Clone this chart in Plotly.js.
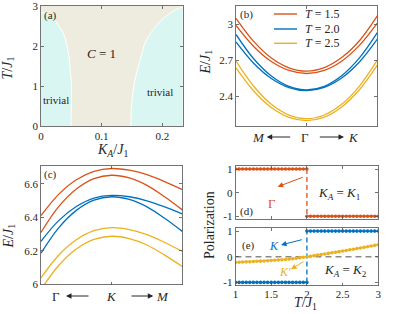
<!DOCTYPE html>
<html><head><meta charset="utf-8">
<script src="https://cdn.plot.ly/plotly-3.0.1.min.js"></script>
<style>html,body{margin:0;padding:0;background:#fff}#plot{width:399px;height:314px}</style>
</head><body><div id="plot"></div>
<script>
// ---------- DATA ----------
// (a) phase diagram boundaries (K_A/J1, T/J1)
const leftBoundaryK  = [0.0494, 0.0500, 0.0504, 0.0478, 0.0466, 0.0433, 0.0367, 0.0285, 0.0203, 0.0100, 0.0000];
const leftBoundaryT  = [0.00,   0.50,   1.00,   1.44,   1.69,   1.98,   2.32,   2.525,  2.69,   2.80,   2.84];
const rightBoundaryK = [0.148, 0.149, 0.153, 0.160, 0.1659, 0.1713, 0.1824, 0.196, 0.2125, 0.2318, 0.2335];
const rightBoundaryT = [0.00,  0.48,  1.00,  1.48,  1.775,  2.07,   2.36,   2.61,  2.82,   2.98,   3.00];
const rangeKA = [0, 0.2335];
const rangeTa = [0, 3];

// (b) bands along M <- Gamma -> K
const kB = [-1, -0.75, -0.5, -0.25, 0, 0.25, 0.5, 0.75, 1];
const bT15a = [3.050, 2.857, 2.718, 2.636, 2.608, 2.638, 2.724, 2.865, 3.070];
const bT15b = [2.990, 2.815, 2.689, 2.614, 2.589, 2.615, 2.694, 2.826, 3.010];
const bT20a = [2.915, 2.712, 2.568, 2.481, 2.452, 2.482, 2.572, 2.721, 2.930];
const bT20b = [2.853, 2.675, 2.547, 2.471, 2.445, 2.472, 2.553, 2.687, 2.876];
const bT25a = [2.692, 2.482, 2.331, 2.241, 2.211, 2.242, 2.333, 2.486, 2.700];
const bT25b = [2.635, 2.443, 2.305, 2.222, 2.195, 2.224, 2.311, 2.455, 2.658];
const legendLabels = ['<i>T</i> = 1.5', '<i>T</i> = 2.0', '<i>T</i> = 2.5'];

// (c) bands along Gamma <- K -> M
const kC = [0, 0.25, 0.5, 0.75, 1, 1.25, 1.5, 1.75, 2];
const cT15a = [6.410, 6.536, 6.623, 6.673, 6.690, 6.680, 6.653, 6.612, 6.564];
const cT15b = [6.310, 6.463, 6.568, 6.630, 6.650, 6.634, 6.590, 6.522, 6.444];
const cT20a = [6.257, 6.380, 6.464, 6.514, 6.530, 6.522, 6.498, 6.462, 6.420];
const cT20b = [6.186, 6.337, 6.441, 6.502, 6.522, 6.506, 6.462, 6.394, 6.316];
const cT25a = [6.040, 6.174, 6.266, 6.320, 6.338, 6.327, 6.297, 6.250, 6.197];
const cT25b = [5.970, 6.113, 6.211, 6.268, 6.287, 6.273, 6.235, 6.175, 6.107];

// (d),(e) polarization vs T/J1
const T_low  = [1.00,1.05,1.10,1.15,1.20,1.25,1.30,1.35,1.40,1.45,1.50,1.55,1.60,1.65,1.70,1.75,1.80,1.85,1.90,1.95,2.00];
const T_high = [2.00,2.05,2.10,2.15,2.20,2.25,2.30,2.35,2.40,2.45,2.50,2.55,2.60,2.65,2.70,2.75,2.80,2.85,2.90,2.95,3.00];
const polGammaLow  = [1,1,1,1,1,1,1,1,1,1,1,1,1,1,1,1,1,1,1,1,1];
const polGammaHigh = [-1,-1,-1,-1,-1,-1,-1,-1,-1,-1,-1,-1,-1,-1,-1,-1,-1,-1,-1,-1,-1];
const polKLow  = [-1,-1,-1,-1,-1,-1,-1,-1,-1,-1,-1,-1,-1,-1,-1,-1,-1,-1,-1,-1,-1];
const polKHigh = [1,1,1,1,1,1,1,1,1,1,1,1,1,1,1,1,1,1,1,1,1];
const polKpLow  = [-0.220,-0.213,-0.206,-0.199,-0.192,-0.185,-0.178,-0.171,-0.163,-0.155,-0.147,-0.138,-0.128,-0.117,-0.105,-0.092,-0.078,-0.060,-0.041,-0.021,0.000];
const polKpHigh = [0.000,0.021,0.042,0.064,0.086,0.108,0.130,0.153,0.176,0.199,0.222,0.246,0.270,0.294,0.318,0.342,0.367,0.392,0.418,0.444,0.470];

// ---------- STYLE ----------
const W = 399, H = 314;
const FONT = 'Liberation Serif, Times New Roman, serif';
const ORANGE = '#D95319', BLUE = '#0072BD', YELLOW = '#EDB120';
const CYAN = '#daf6f2', BEIGE = '#eeecdf';
const TXT = '#262626';
const xd = (a, b) => [a / W, b / W];
const yd = (top, bot) => [1 - bot / H, 1 - top / H];
const px = v => v / W, py = v => 1 - v / H;

const axBase = {
  showline: true, linecolor: '#505050', linewidth: 0.8, mirror: 'ticks',
  ticks: 'inside', ticklen: 3, tickcolor: '#505050', tickwidth: 0.8,
  zeroline: false, showgrid: false, fixedrange: true, ticklabeloverflow: 'allow',
  tickfont: {family: FONT, size: 11, color: TXT}
};
function ax(extra) { return Object.assign({}, axBase, extra); }

const traces = [];
// (a)
traces.push({x: [rangeKA[0], rangeKA[1], rangeKA[1], rangeKA[0]], y: [rangeTa[0], rangeTa[0], rangeTa[1], rangeTa[1]],
  fill: 'toself', fillcolor: BEIGE, line: {width: 0}, mode: 'lines', xaxis: 'x', yaxis: 'y', showlegend: false, hoverinfo: 'skip'});
traces.push({x: [rangeKA[0]].concat(leftBoundaryK), y: [rangeTa[0]].concat(leftBoundaryT),
  fill: 'toself', fillcolor: CYAN, line: {width: 0}, mode: 'lines', xaxis: 'x', yaxis: 'y', showlegend: false, hoverinfo: 'skip'});
traces.push({x: rightBoundaryK.concat([rangeKA[1]]), y: rightBoundaryT.concat([rangeTa[0]]),
  fill: 'toself', fillcolor: CYAN, line: {width: 0}, mode: 'lines', xaxis: 'x', yaxis: 'y', showlegend: false, hoverinfo: 'skip'});
traces.push({x: leftBoundaryK, y: leftBoundaryT, mode: 'lines', line: {color: '#ffffff', width: 1, shape: 'spline'},
  xaxis: 'x', yaxis: 'y', showlegend: false});
traces.push({x: rightBoundaryK, y: rightBoundaryT, mode: 'lines', line: {color: '#ffffff', width: 1, shape: 'spline'},
  xaxis: 'x', yaxis: 'y', showlegend: false});

// (b)
const bSeries = [[bT15a, ORANGE, legendLabels[0]], [bT15b, ORANGE, legendLabels[0]],
                 [bT20a, BLUE, legendLabels[1]], [bT20b, BLUE, legendLabels[1]],
                 [bT25a, YELLOW, legendLabels[2]], [bT25b, YELLOW, legendLabels[2]]];
bSeries.forEach(s => traces.push({x: kB, y: s[0], mode: 'lines', line: {color: s[1], width: 1.3, shape: 'spline'},
  xaxis: 'x2', yaxis: 'y2', name: s[2], showlegend: false}));

// (c)
const cSeries = [[cT15a, ORANGE], [cT15b, ORANGE], [cT20a, BLUE], [cT20b, BLUE], [cT25a, YELLOW], [cT25b, YELLOW]];
cSeries.forEach(s => traces.push({x: kC, y: s[0], mode: 'lines', line: {color: s[1], width: 1.3, shape: 'spline'},
  xaxis: 'x3', yaxis: 'y3', showlegend: false}));

// (d)
const mk = c => ({mode: 'lines+markers', line: {color: c, width: 1.4}, marker: {color: c, size: 3.6}});
traces.push(Object.assign({x: T_low, y: polGammaLow, xaxis: 'x4', yaxis: 'y4', showlegend: false}, mk(ORANGE)));
traces.push({x: [T_low[T_low.length - 1], T_high[0]], y: [polGammaLow[polGammaLow.length - 1], polGammaHigh[0]],
  mode: 'lines', line: {color: ORANGE, width: 1.3, dash: '5px,3px'}, xaxis: 'x4', yaxis: 'y4', showlegend: false});
traces.push(Object.assign({x: T_high, y: polGammaHigh, xaxis: 'x4', yaxis: 'y4', showlegend: false}, mk(ORANGE)));

// (e)
traces.push(Object.assign({x: T_low, y: polKLow, xaxis: 'x5', yaxis: 'y5', showlegend: false}, mk(BLUE)));
traces.push({x: [T_low[T_low.length - 1], T_high[0]], y: [polKLow[polKLow.length - 1], polKHigh[0]],
  mode: 'lines', line: {color: BLUE, width: 1.3, dash: '5px,3px'}, xaxis: 'x5', yaxis: 'y5', showlegend: false});
traces.push(Object.assign({x: T_high, y: polKHigh, xaxis: 'x5', yaxis: 'y5', showlegend: false}, mk(BLUE)));
traces.push(Object.assign({x: T_low.concat(T_high.slice(1)), y: polKpLow.concat(polKpHigh.slice(1)),
  xaxis: 'x5', yaxis: 'y5', showlegend: false}, mk(YELLOW)));

const ann = [];
const shapes = [];
function txt(text, x, y, size, color, extra) {
  ann.push(Object.assign({text: text, x: x, y: y, xref: 'paper', yref: 'paper', showarrow: false,
    font: {family: FONT, size: size, color: color || TXT}, xanchor: 'center', yanchor: 'middle'}, extra || {}));
}
function arrow(hx, hy, axp, ayp, color) {
  ann.push({text: '', x: px(hx), y: py(hy), xref: 'paper', yref: 'paper', showarrow: true, ax: axp, ay: ayp,
    arrowhead: 2, arrowsize: 1.1, arrowwidth: 1, arrowcolor: color || TXT, standoff: 0, startstandoff: 0});
}
// axis titles
txt('<i>K</i><sub><i>A</i></sub>/<i>J</i><sub>1</sub>', px(112), py(150), 14);
txt('<i>T</i>/<i>J</i><sub>1</sub>', px(8.5), py(68), 14, null, {textangle: -90});
txt('<i>E</i>/<i>J</i><sub>1</sub>', px(206.5), py(62), 14, null, {textangle: -90});
txt('<i>E</i>/<i>J</i><sub>1</sub>', px(8.5), py(236), 14, null, {textangle: -90});
txt('<i>T</i>/<i>J</i><sub>1</sub>', px(305), py(313.5), 14, null, {yanchor: 'bottom'});
txt('Polarization', px(210), py(225), 14, null, {textangle: -90});
// (a)
txt('(a)', px(42), py(15.7), 11, null, {xanchor: 'left'});
txt('<i>C</i> = 1', px(101.7), py(53.3), 13);
txt('trivial', px(55.8), py(100), 11);
txt('trivial', px(160), py(91.7), 11);
// (b)
txt('(b)', px(238), py(15), 11, null, {xanchor: 'left'});
txt('<i>M</i>', px(258), py(137), 13);
txt('Γ', px(305), py(137), 13);
txt('<i>K</i>', px(353.3), py(137), 13);
arrow(266.7, 137, 25, 0);
arrow(344, 137, -25.7, 0);
// legend of (b)
const legColors = [ORANGE, BLUE, YELLOW];
const legRows = [14, 29, 43.3];
legendLabels.forEach((lab, i) => {
  shapes.push({type: 'line', xref: 'paper', yref: 'paper', x0: px(274), x1: px(297), y0: py(legRows[i]), y1: py(legRows[i]),
    line: {color: legColors[i], width: 1.4}});
  txt(lab, px(303), py(legRows[i]), 12, null, {xanchor: 'left'});
});
// (c)
txt('(c)', px(42.3), py(174), 11, null, {xanchor: 'left'});
txt('Γ', px(56.3), py(296), 13);
txt('<i>K</i>', px(111.7), py(296), 13);
txt('<i>M</i>', px(162.5), py(296), 13);
arrow(66, 296, 24, 0);
arrow(153.3, 296, -23.3, 0);
// (d)
txt('(d)', px(238.3), py(211.7), 11, null, {xanchor: 'left'});
txt('Γ', px(271.7), py(203.3), 13, ORANGE);
arrow(277.7, 186.7, 26.6, -10, ORANGE);
txt('<i>K</i><sub><i>A</i></sub> = <i>K</i><sub>1</sub>', px(338.8), py(193.3), 13);
// (e)
txt('(e)', px(240), py(245), 11, null, {xanchor: 'left'});
txt('<i>K</i>', px(274), py(245.7), 12, BLUE);
arrow(281, 245, 22.3, -5.7, BLUE);
txt('<i>K′</i>', px(285), py(271.7), 12, YELLOW);
arrow(291, 269.3, 14, -8.6, YELLOW);
txt('<i>K</i><sub><i>A</i></sub> = <i>K</i><sub>2</sub>', px(345.8), py(270), 13);

shapes.push({type: 'line', xref: 'x5 domain', yref: 'y5', x0: 0, x1: 1, y0: 0, y1: 0, layer: 'below',
  line: {color: '#8a8a8a', width: 1.3, dash: '6px,4px'}});

const layout = {
  width: W, height: H, margin: {l: 0, r: 0, t: 0, b: 0}, paper_bgcolor: '#fff', plot_bgcolor: 'rgba(0,0,0,0)',
  showlegend: false,
  xaxis: ax({domain: xd(41, 182.7), range: rangeKA, anchor: 'y', tickvals: [0, 0.1, 0.2], ticktext: ['0', '0.1', '0.2']}),
  yaxis: ax({domain: yd(6, 126), range: rangeTa, anchor: 'x', tickvals: [0, 1, 2, 3], ticktext: ['0', '1', '2', '3']}),
  xaxis2: ax({domain: xd(236, 377.3), range: [-1, 1], anchor: 'y2', tickvals: [0], showticklabels: false}),
  yaxis2: ax({domain: yd(6, 126), range: [2.15, 3.153], anchor: 'x2', tickvals: [2.4, 2.7, 3.0], ticktext: ['2.4', '2.7', '3']}),
  xaxis3: ax({domain: xd(41, 182.3), range: [0, 2], anchor: 'y3', tickvals: [1], showticklabels: false}),
  yaxis3: ax({domain: yd(166, 284.5), range: [6, 6.705], anchor: 'x3', tickvals: [6, 6.2, 6.4, 6.6], ticktext: ['6', '6.2', '6.4', '6.6']}),
  xaxis4: ax({domain: xd(235.5, 378.3), range: [1, 3], anchor: 'y4', tickvals: [1, 1.5, 2, 2.5, 3], showticklabels: false}),
  yaxis4: ax({domain: yd(166, 219.3), range: [-1.13, 1.13], anchor: 'x4', tickvals: [-1, 0, 1], ticktext: ['-1', '0', '1']}),
  xaxis5: ax({domain: xd(235.5, 378.3), range: [1, 3], anchor: 'y5', tickvals: [1, 1.5, 2, 2.5, 3], ticktext: ['1', '1.5', '2', '2.5', '3'],
    ticklabelstandoff: -2}),
  yaxis5: ax({domain: yd(228, 285.5), range: [-1.12, 1.12], anchor: 'x5', tickvals: [-1, 0, 1], ticktext: ['-1', '0', '1']}),
  shapes: shapes,
  annotations: ann
};
Plotly.newPlot('plot', traces, layout, {staticPlot: true, displayModeBar: false});
</script></body></html>
